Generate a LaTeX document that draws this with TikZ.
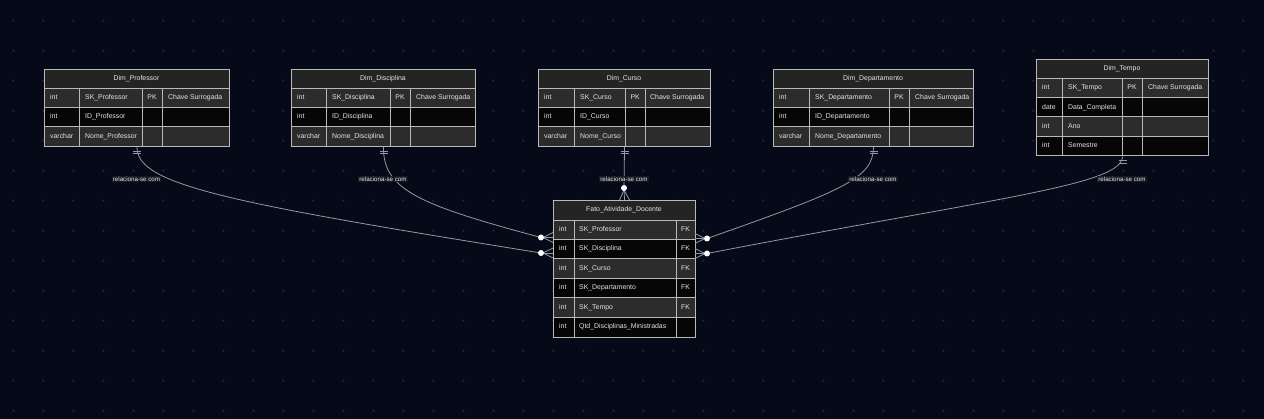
\documentclass[tikz,border=0pt]{standalone}
\usepackage{fontspec}
\setmainfont{Liberation Sans}
\usetikzlibrary{positioning}
\usetikzlibrary{arrows.meta}

\definecolor{bgnavy}{RGB}{5,9,24}
\definecolor{griddot}{RGB}{30,36,52}
\definecolor{tabline}{RGB}{185,185,185}
\definecolor{hdrgray}{RGB}{36,36,36}
\definecolor{rowgray}{RGB}{44,44,44}
\definecolor{rowblack}{RGB}{6,6,6}
\definecolor{txtlight}{RGB}{228,228,228}
\definecolor{relline}{RGB}{150,152,162}
\definecolor{lblbg}{RGB}{22,24,34}

\tikzset{
  tabframe/.style={draw=tabline, line width=1pt, inner sep=0pt, anchor=north west},
  cellline/.style={draw=tabline, line width=0.8pt},
  txt/.style={text=txtlight, font=\fontsize{6.9}{8}\selectfont, inner sep=0pt, text height=4.9pt, text depth=1.4pt},
  lft/.style={txt, anchor=west},
  rel/.style={draw=relline, line width=0.8pt},
  lbl/.style={fill=lblbg, text=txtlight, font=\fontsize{6.2}{7}\selectfont, inner sep=1.2pt},
}

\begin{document}
\begin{tikzpicture}[x=1pt,y=-1pt]
		\useasboundingbox (0,0) rectangle (1264,419);
		\fill[bgnavy] (0,0) rectangle (1264,419);
		\foreach \i in {0,...,41}
			\foreach \j in {0,...,13}
				\fill[griddot] (13.3+30*\i,20.7+30*\j) circle (1.3);
		
		% Dim_Professor
		\fill[hdrgray] (44,69) rectangle (229,88);
		\foreach \t/\n/\c [count=\i from 0] in {int/SK\_Professor/rowgray, int/ID\_Professor/rowblack, varchar/Nome\_Professor/rowgray}{
			\fill[\c] (44,88+19.4*\i) rectangle (229,107.4+19.4*\i);
			\node[lft] (prof-t\i) at (50,97.7+19.4*\i) {\t};
			\node[lft] (prof-n\i) at (85,97.7+19.4*\i) {\n};
		}
		\foreach \y in {88,107.4,126.8} \draw[cellline] (44,\y) -- (229,\y);
		\foreach \x in {79,142,162} \draw[cellline] (\x,88) -- (\x,146.2);
		\node[tabframe, minimum width=185pt, minimum height=77.2pt] (prof) at (44,69) {};
		\node[txt] (prof-h) at (136.5,78.5) {Dim\_Professor};
		\node[txt] (prof-pk) at (152,97.7) {PK};
		\node[lft] (prof-c) at (168,97.7) {Chave Surrogada};
		
		% Dim_Disciplina
		\fill[hdrgray] (291,69) rectangle (475,88);
		\foreach \t/\n/\c [count=\i from 0] in {int/SK\_Disciplina/rowgray, int/ID\_Disciplina/rowblack, varchar/Nome\_Disciplina/rowgray}{
			\fill[\c] (291,88+19.4*\i) rectangle (475,107.4+19.4*\i);
			\node[lft] (disc-t\i) at (297,97.7+19.4*\i) {\t};
			\node[lft] (disc-n\i) at (332,97.7+19.4*\i) {\n};
		}
		\foreach \y in {88,107.4,126.8} \draw[cellline] (291,\y) -- (475,\y);
		\foreach \x in {326.5,390,410} \draw[cellline] (\x,88) -- (\x,146.2);
		\node[tabframe, minimum width=184pt, minimum height=77.2pt] (disc) at (291,69) {};
		\node[txt] (disc-h) at (383,78.5) {Dim\_Disciplina};
		\node[txt] (disc-pk) at (400,97.7) {PK};
		\node[lft] (disc-c) at (416,97.7) {Chave Surrogada};
		
		% Dim_Curso
		\fill[hdrgray] (538,69) rectangle (710,88);
		\foreach \t/\n/\c [count=\i from 0] in {int/SK\_Curso/rowgray, int/ID\_Curso/rowblack, varchar/Nome\_Curso/rowgray}{
			\fill[\c] (538,88+19.4*\i) rectangle (710,107.4+19.4*\i);
			\node[lft] (curso-t\i) at (544,97.7+19.4*\i) {\t};
			\node[lft] (curso-n\i) at (580,97.7+19.4*\i) {\n};
		}
		\foreach \y in {88,107.4,126.8} \draw[cellline] (538,\y) -- (710,\y);
		\foreach \x in {574,625.5,645} \draw[cellline] (\x,88) -- (\x,146.2);
		\node[tabframe, minimum width=172pt, minimum height=77.2pt] (curso) at (538,69) {};
		\node[txt] (curso-h) at (624,78.5) {Dim\_Curso};
		\node[txt] (curso-pk) at (635.2,97.7) {PK};
		\node[lft] (curso-c) at (650,97.7) {Chave Surrogada};
		
		% Dim_Departamento
		\fill[hdrgray] (773,69) rectangle (973,88);
		\foreach \t/\n/\c [count=\i from 0] in {int/SK\_Departamento/rowgray, int/ID\_Departamento/rowblack, varchar/Nome\_Departamento/rowgray}{
			\fill[\c] (773,88+19.4*\i) rectangle (973,107.4+19.4*\i);
			\node[lft] (dept-t\i) at (779,97.7+19.4*\i) {\t};
			\node[lft] (dept-n\i) at (815,97.7+19.4*\i) {\n};
		}
		\foreach \y in {88,107.4,126.8} \draw[cellline] (773,\y) -- (973,\y);
		\foreach \x in {809,889,909} \draw[cellline] (\x,88) -- (\x,146.2);
		\node[tabframe, minimum width=200pt, minimum height=77.2pt] (dept) at (773,69) {};
		\node[txt] (dept-h) at (873,78.5) {Dim\_Departamento};
		\node[txt] (dept-pk) at (899,97.7) {PK};
		\node[lft] (dept-c) at (915,97.7) {Chave Surrogada};
		
		% Dim_Tempo
		\fill[hdrgray] (1036,59) rectangle (1208,78.3);
		\foreach \t/\n/\c [count=\i from 0] in {int/SK\_Tempo/rowgray, date/Data\_Completa/rowblack, int/Ano/rowgray, int/Semestre/rowblack}{
			\fill[\c] (1036,78.3+19.3*\i) rectangle (1208,97.6+19.3*\i);
			\node[lft] (tempo-t\i) at (1042,88+19.3*\i) {\t};
			\node[lft] (tempo-n\i) at (1068,88+19.3*\i) {\n};
		}
		\foreach \y in {78.3,97.6,116.9,136.2} \draw[cellline] (1036,\y) -- (1208,\y);
		\foreach \x in {1062,1122,1142} \draw[cellline] (\x,78.3) -- (\x,155.5);
		\node[tabframe, minimum width=172pt, minimum height=96.5pt] (tempo) at (1036,59) {};
		\node[txt] (tempo-h) at (1122,68.6) {Dim\_Tempo};
		\node[txt] (tempo-pk) at (1132,88) {PK};
		\node[lft] (tempo-c) at (1148,88) {Chave Surrogada};
		
		% Fato_Atividade_Docente
		\fill[hdrgray] (553,200) rectangle (695,220);
		\foreach \n/\c [count=\i from 0] in {SK\_Professor/rowgray, SK\_Disciplina/rowblack, SK\_Curso/rowgray, SK\_Departamento/rowblack, SK\_Tempo/rowgray, Qtd\_Disciplinas\_Ministradas/rowblack}{
			\fill[\c] (553,220+19.45*\i) rectangle (695,239.45+19.45*\i);
			\node[lft] (fact-t\i) at (559,229.7+19.45*\i) {int};
			\node[lft] (fact-n\i) at (579,229.7+19.45*\i) {\n};
		}
		\foreach \i in {0,...,4} \node[txt] (fact-fk\i) at (685.5,229.7+19.45*\i) {FK};
		\foreach \i in {0,...,5} \draw[cellline] (553,220+19.45*\i) -- (695,220+19.45*\i);
		\foreach \x in {574,676} \draw[cellline] (\x,220) -- (\x,336.7);
		\node[tabframe, minimum width=142pt, minimum height=136.7pt] (fact) at (553,200) {};
		\node[txt] (fact-h) at (624,210) {Fato\_Atividade\_Docente};
		
		% relationship ends
		\coordinate (fprof) at (541,253);
		\coordinate (fdisc) at (541,237.5);
		\coordinate (fdept) at (707,238.5);
		\coordinate (ftempo) at (707,253.5);
		\coordinate (fcurso) at (624,188);
		\coordinate (eprof) at (553,253);
		\coordinate (edisc) at (553,237.5);
		\coordinate (edept) at (695,238.5);
		\coordinate (etempo) at (695,253.5);
		
		\draw[rel] (prof.south) .. controls (136.5,185) and (230,203) .. (fprof);
		\draw[rel] (disc.south) .. controls (383,190) and (420,205) .. (fdisc);
		\draw[rel] (curso.south) -- (fcurso);
		\draw[rel] (dept.south) .. controls (873,178) and (845,190) .. (fdept);
		\draw[rel] (tempo.south) .. controls (1122,185) and (1000,197) .. (ftempo);
		
		% crow's feet
		\foreach \f/\e in {fprof/eprof, fdisc/edisc}{
			\draw[rel] (\f) -- (\e);
			\draw[rel] ([xshift=2pt]\f) -- ([yshift=5pt]\e);
			\draw[rel] ([xshift=2pt]\f) -- ([yshift=-5pt]\e);
		}
		\foreach \f/\e in {fdept/edept, ftempo/etempo}{
			\draw[rel] (\f) -- (\e);
			\draw[rel] ([xshift=-2pt]\f) -- ([yshift=5pt]\e);
			\draw[rel] ([xshift=-2pt]\f) -- ([yshift=-5pt]\e);
		}
		\draw[rel] (fcurso) -- (fact.north);
		\draw[rel] ([yshift=-2pt]fcurso) -- ([xshift=-5pt]fact.north);
		\draw[rel] ([yshift=-2pt]fcurso) -- ([xshift=5pt]fact.north);
		\foreach \f in {fprof,fdisc,fdept,ftempo,fcurso}
			\fill[white] (\f) circle (3);
		
		% one-and-only-one marks
		\foreach \d in {prof,disc,curso,dept,tempo}{
			\draw[rel] ([xshift=-4pt,yshift=-4pt]\d.south) -- ([xshift=4pt,yshift=-4pt]\d.south);
			\draw[rel] ([xshift=-4pt,yshift=-6.5pt]\d.south) -- ([xshift=4pt,yshift=-6.5pt]\d.south);
		}
		
		% labels
		\node[lbl] (lprof) at (136.5,179) {relaciona-se com};
		\node[lbl] (ldisc) at (383,179) {relaciona-se com};
		\node[lbl] (lcurso) at (624,179) {relaciona-se com};
		\node[lbl] (ldept) at (873,179) {relaciona-se com};
		\node[lbl] (ltempo) at (1122,179) {relaciona-se com};
\end{tikzpicture}
\end{document}
